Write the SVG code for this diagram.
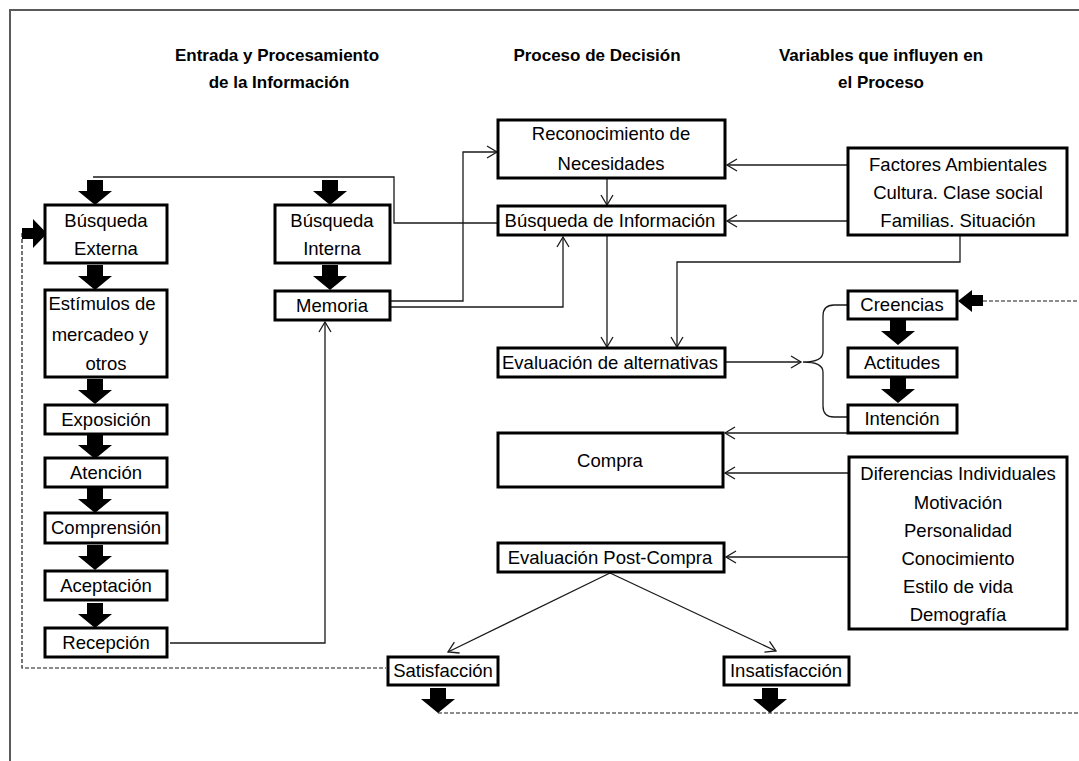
<svg xmlns="http://www.w3.org/2000/svg" width="1079" height="761" viewBox="0 0 1079 761">
  <style>
    .box { fill: #fff; stroke: #000; stroke-width: 3; }
    .t { font-family: "Liberation Sans", Arial, sans-serif; font-size: 18.5px; fill: #000; text-anchor: middle; }
    .h { font-family: "Liberation Sans", Arial, sans-serif; font-size: 17px; font-weight: bold; fill: #000; text-anchor: middle; }
    .ln { fill: none; stroke: #1a1a1a; stroke-width: 1.3; }
    .arr { marker-end: url(#open); }
    .dash { fill: none; stroke: #1a1a1a; stroke-width: 1.2; stroke-dasharray: 4 2; }
    .blk { fill: #000; }
  </style>
  <defs>
    <marker id="open" markerUnits="userSpaceOnUse" markerWidth="14" markerHeight="16" refX="11" refY="7" orient="auto">
      <path d="M1,1 L11,7 L1,13" fill="none" stroke="#1a1a1a" stroke-width="1.3"/>
    </marker>
    <!-- thick block arrow pointing down, tip 25 below its top -->
    <path id="down" d="M-8,0 H8 V11 H17 L0,25 L-17,11 H-8 Z"/>
  </defs>

  <rect width="1079" height="761" fill="#fff"/>
  <!-- outer frame -->
  <path d="M10,761 V10 H1079" fill="none" stroke="#5a5a5a" stroke-width="2"/>

  <!-- column headings -->
  <g id="headings">
    <text class="h" x="277" y="61">Entrada y Procesamiento</text>
    <text class="h" x="279" y="88">de la Información</text>
    <text class="h" x="597" y="61">Proceso de Decisión</text>
    <text class="h" x="881" y="61">Variables que influyen en</text>
    <text class="h" x="881" y="88">el Proceso</text>
  </g>

  <!-- connectors -->
  <g id="connectors">
    <path class="ln" d="M498,223 H394 V177 H93"/>
    <path class="ln arr" d="M390,301 H463 V152 H497"/>
    <path class="ln arr" d="M390,307 H563 V237"/>
    <path class="ln arr" d="M170,643 H325 V322"/>
    <path class="ln arr" d="M607,178 V205"/>
    <path class="ln arr" d="M607,235 V347"/>
    <path class="ln arr" d="M848,165 H727"/>
    <path class="ln arr" d="M848,221 H727"/>
    <path class="ln arr" d="M960,235 V262 H677 V347"/>
    <path class="ln arr" d="M725,362 H801"/>
    <path class="ln" d="M848,305 H834 Q823,305 823,316 V352 Q823,362 803,362 Q823,362 823,372 V406 Q823,417 834,417 H848"/>
    <path class="ln arr" d="M848,433 H725"/>
    <path class="ln arr" d="M849,473 H725"/>
    <path class="ln arr" d="M849,557 H726"/>
    <path class="ln arr" d="M610,573 L448,652"/>
    <path class="ln arr" d="M610,573 L776,651"/>
    <path class="dash" d="M22,233 V668 H386"/>
    <path class="dash" d="M438,713 H1079"/>
    <path class="dash" d="M983,301 H1079"/>
    <!-- block arrows -->
    <use href="#down" class="blk" x="95" y="180"/>
    <use href="#down" class="blk" x="330" y="180"/>
    <use href="#down" class="blk" x="95" y="265"/>
    <use href="#down" class="blk" x="95" y="379"/>
    <use href="#down" class="blk" x="95" y="434"/>
    <use href="#down" class="blk" x="95" y="488"/>
    <use href="#down" class="blk" x="95" y="545"/>
    <use href="#down" class="blk" x="95" y="603"/>
    <use href="#down" class="blk" x="330" y="265"/>
    <use href="#down" class="blk" x="898" y="320"/>
    <use href="#down" class="blk" x="898" y="378"/>
    <use href="#down" class="blk" x="438" y="688"/>
    <use href="#down" class="blk" x="770" y="688"/>
    <path class="blk" d="M22,228 H33 V219 L47,233.5 L33,248 V239 H22 Z"/>
    <path class="blk" d="M983,295 H972 V290 L958,301 L972,312 V306 H983 Z"/>
  </g>

  <g id="busqueda-externa"><rect class="box" x="45" y="205" width="122" height="58"/>
    <text class="t" x="106" y="227">Búsqueda</text><text class="t" x="106" y="255">Externa</text></g>
  <g id="estimulos"><rect class="box" x="45" y="290" width="122" height="87"/>
    <text class="t" x="102" y="310">Estímulos de</text><text class="t" x="100" y="341">mercadeo y</text><text class="t" x="106" y="370">otros</text></g>
  <g id="exposicion"><rect class="box" x="45" y="405" width="122" height="29"/>
    <text class="t" x="106" y="426">Exposición</text></g>
  <g id="atencion"><rect class="box" x="45" y="458" width="122" height="29"/>
    <text class="t" x="106" y="479">Atención</text></g>
  <g id="comprension"><rect class="box" x="45" y="513" width="122" height="30"/>
    <text class="t" x="106" y="534">Comprensión</text></g>
  <g id="aceptacion"><rect class="box" x="45" y="571" width="122" height="29"/>
    <text class="t" x="106" y="592">Aceptación</text></g>
  <g id="recepcion"><rect class="box" x="45" y="628" width="122" height="29"/>
    <text class="t" x="106" y="649">Recepción</text></g>
  <g id="busqueda-interna"><rect class="box" x="275" y="205" width="115" height="58"/>
    <text class="t" x="332" y="227">Búsqueda</text><text class="t" x="332" y="255">Interna</text></g>
  <g id="memoria"><rect class="box" x="275" y="291" width="115" height="29"/>
    <text class="t" x="332" y="312">Memoria</text></g>

  <g id="reconocimiento"><rect class="box" x="498" y="120" width="227" height="58"/>
    <text class="t" x="611" y="140">Reconocimiento de</text><text class="t" x="611" y="170">Necesidades</text></g>
  <g id="busqueda-informacion"><rect class="box" x="498" y="206" width="227" height="29"/>
    <text class="t" x="610" y="227">Búsqueda de Información</text></g>
  <g id="evaluacion-alternativas"><rect class="box" x="498" y="348" width="227" height="29"/>
    <text class="t" x="610" y="369">Evaluación de alternativas</text></g>
  <g id="compra"><rect class="box" x="498" y="433" width="225" height="54"/>
    <text class="t" x="610" y="467">Compra</text></g>
  <g id="post-compra"><rect class="box" x="498" y="543" width="226" height="29"/>
    <text class="t" x="610" y="564">Evaluación Post-Compra</text></g>
  <g id="satisfaccion"><rect class="box" x="388" y="657" width="110" height="28"/>
    <text class="t" x="443" y="677">Satisfacción</text></g>
  <g id="insatisfaccion"><rect class="box" x="724" y="657" width="125" height="28"/>
    <text class="t" x="786" y="677">Insatisfacción</text></g>

  <g id="factores-ambientales"><rect class="box" x="848" y="148" width="219" height="87"/>
    <text class="t" x="958" y="171">Factores Ambientales</text><text class="t" x="958" y="199">Cultura. Clase social</text><text class="t" x="958" y="227">Familias. Situación</text></g>
  <g id="creencias"><rect class="box" x="848" y="291" width="109" height="28"/>
    <text class="t" x="902" y="311">Creencias</text></g>
  <g id="actitudes"><rect class="box" x="848" y="348" width="109" height="29"/>
    <text class="t" x="902" y="369">Actitudes</text></g>
  <g id="intencion"><rect class="box" x="848" y="405" width="109" height="28"/>
    <text class="t" x="902" y="425">Intención</text></g>
  <g id="diferencias-individuales"><rect class="box" x="849" y="457" width="218" height="172"/>
    <text class="t" x="958" y="480">Diferencias Individuales</text><text class="t" x="958" y="509">Motivación</text><text class="t" x="958" y="537">Personalidad</text><text class="t" x="958" y="565">Conocimiento</text><text class="t" x="958" y="593">Estilo de vida</text><text class="t" x="958" y="621">Demografía</text></g>
</svg>
